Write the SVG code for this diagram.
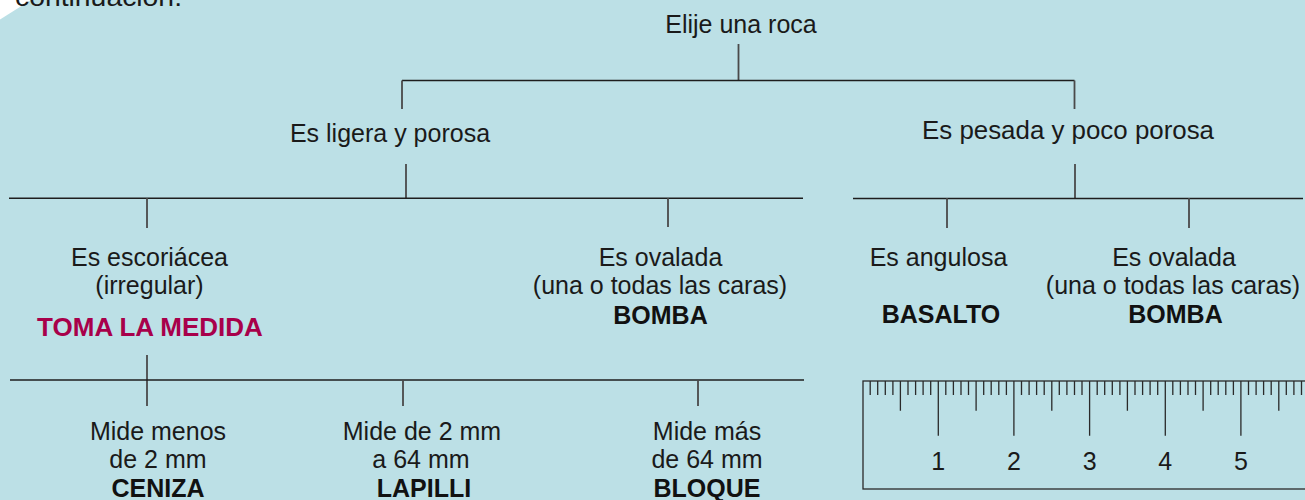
<svg xmlns="http://www.w3.org/2000/svg" width="1305" height="500" viewBox="0 0 1305 500">
<style>
.t{font-family:"Liberation Sans",Arial,sans-serif;font-size:25px;fill:#1a1a1a;text-anchor:middle}
.b{font-weight:bold;fill:#111}
.m{font-weight:bold;fill:#a8004a;font-size:26px}
.h{stroke:#1e1e1e;stroke-width:1.4;fill:none}
.v{stroke:#4a4a4a;stroke-width:1.8;fill:none}
.r{stroke:#2a2a2a;stroke-width:1.3;fill:none}
</style>
<rect width="1305" height="500" fill="#bce0e6"/>
<polygon points="0,0 31,0 0,19.5" fill="#ffffff"/>
<text class="t" x="15" y="6" style="text-anchor:start" textLength="167" lengthAdjust="spacingAndGlyphs">continuación.</text>

<g id="connectors">
<path class="v" d="M738.5 44 V80.5"/>
<path class="h" d="M402 80.5 H1074.5"/>
<path class="v" d="M402 80.5 V109 M1074.5 80.5 V109"/>
<path class="v" d="M406 164 V198"/>
<path class="h" d="M9 198.3 H803"/>
<path class="v" d="M147 198 V228 M668 198 V227"/>
<path class="v" d="M1075 164 V198"/>
<path class="h" d="M853 198.5 H1303"/>
<path class="v" d="M947 198 V228 M1189 198 V228"/>
<path class="v" d="M147 355 V406"/>
<path class="h" d="M10 380 H804"/>
<path class="v" d="M403 380 V406 M698 380 V406"/>
</g>

<g id="n-root"><text class="t" x="741" y="32.5">Elije una roca</text></g>
<g id="n-ligera"><text class="t" x="390" y="142">Es ligera y porosa</text></g>
<g id="n-pesada"><text class="t" x="1068" y="138.5" textLength="292" lengthAdjust="spacingAndGlyphs">Es pesada y poco porosa</text></g>

<g id="n-escoriacea">
<text class="t" x="149.5" y="266">Es escoriácea</text>
<text class="t" x="149.5" y="294">(irregular)</text>
<text class="t m" x="150" y="335.5">TOMA LA MEDIDA</text>
</g>
<g id="n-ovalada1">
<text class="t" x="660.5" y="266">Es ovalada</text>
<text class="t" x="660" y="294">(una o todas las caras)</text>
<text class="t b" x="660.5" y="324">BOMBA</text>
</g>
<g id="n-angulosa">
<text class="t" x="938.5" y="266">Es angulosa</text>
<text class="t b" x="941" y="323">BASALTO</text>
</g>
<g id="n-ovalada2">
<text class="t" x="1174" y="266">Es ovalada</text>
<text class="t" x="1173" y="294">(una o todas las caras)</text>
<text class="t b" x="1175.5" y="323">BOMBA</text>
</g>

<g id="n-ceniza">
<text class="t" x="158" y="440">Mide menos</text>
<text class="t" x="158" y="468">de 2 mm</text>
<text class="t b" x="158" y="497">CENIZA</text>
</g>
<g id="n-lapilli">
<text class="t" x="422" y="440">Mide de 2 mm</text>
<text class="t" x="421" y="468">a 64 mm</text>
<text class="t b" x="424" y="497">LAPILLI</text>
</g>
<g id="n-bloque">
<text class="t" x="707" y="440">Mide más</text>
<text class="t" x="707" y="468">de 64 mm</text>
<text class="t b" x="707" y="497">BLOQUE</text>
</g>

<g id="ruler">
<rect class="r" x="863" y="381" width="460" height="108"/>
<path class="r" d="M870.2 381V395M877.7 381V395M885.3 381V395M892.9 381V395M900.4 381V410.7M908 381V395M915.6 381V395M923.1 381V395M930.7 381V395M938.3 381V435.7M945.8 381V395M953.4 381V395M961 381V395M968.5 381V395M976.1 381V410.7M983.7 381V395M991.2 381V395M998.8 381V395M1006.4 381V395M1013.9 381V435.7M1021.5 381V395M1029.1 381V395M1036.6 381V395M1044.2 381V395M1051.8 381V410.7M1059.3 381V395M1066.9 381V395M1074.5 381V395M1082 381V395M1089.6 381V435.7M1097.2 381V395M1104.7 381V395M1112.3 381V395M1119.9 381V395M1127.4 381V410.7M1135 381V395M1142.6 381V395M1150.1 381V395M1157.7 381V395M1165.3 381V435.7M1172.8 381V395M1180.4 381V395M1188 381V395M1195.5 381V395M1203.1 381V410.7M1210.7 381V395M1218.2 381V395M1225.8 381V395M1233.4 381V395M1240.9 381V435.7M1248.5 381V395M1256.1 381V395M1263.6 381V395M1271.2 381V395M1278.8 381V410.7M1286.3 381V395M1293.9 381V395M1301.5 381V395"/>
<text class="t" x="938.3" y="469.5">1</text>
<text class="t" x="1013.9" y="469.5">2</text>
<text class="t" x="1089.6" y="469.5">3</text>
<text class="t" x="1165.3" y="469.5">4</text>
<text class="t" x="1240.9" y="469.5">5</text>
</g>
</svg>
